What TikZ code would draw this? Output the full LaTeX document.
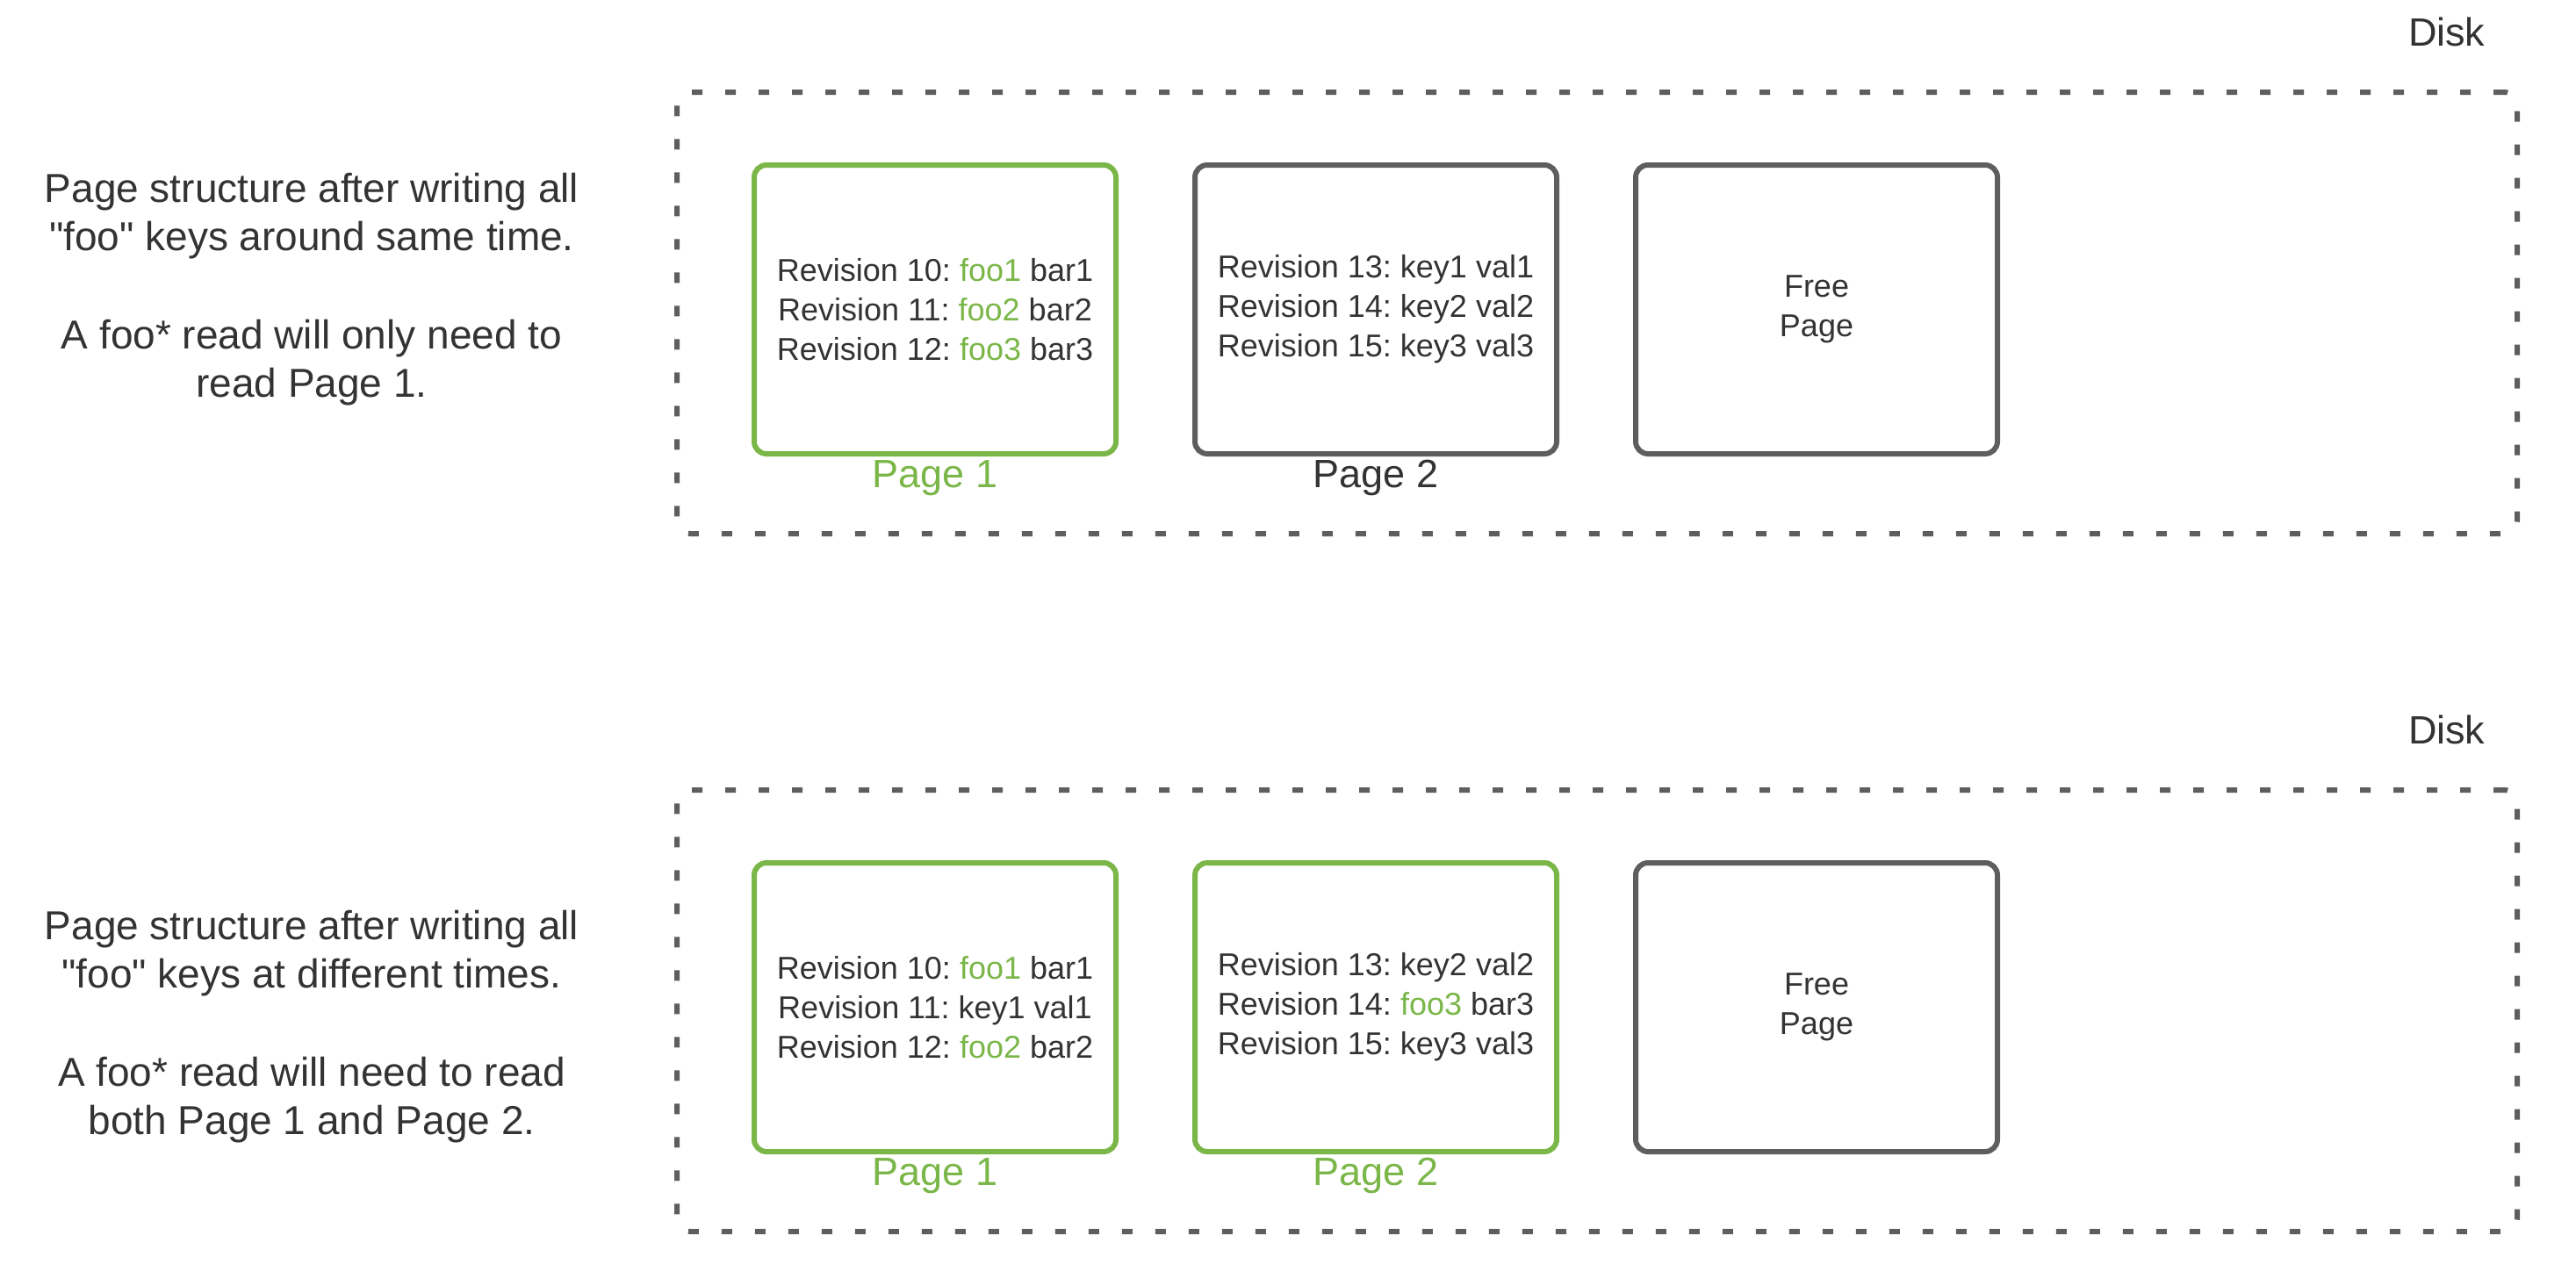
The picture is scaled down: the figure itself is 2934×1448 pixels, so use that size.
\documentclass[tikz,border=0pt]{standalone}
\usepackage{fontspec}
\defaultfontfeatures[\rmfamily]{}
\setmainfont{Liberation Sans}[Ligatures=TeXOff]
\usepackage{tikz}

\definecolor{pagegreen}{HTML}{7AB648}
\definecolor{diskgrey}{HTML}{5E5E5E}
\definecolor{inktext}{HTML}{333333}

\newcommand{\revfont}{\fontsize{36}{45}\selectfont}
\newcommand{\notefont}{\fontsize{46}{55}\selectfont}
\newcommand{\labelfont}{\fontsize{45}{54}\selectfont}
\newcommand{\fookey}[1]{\textcolor{pagegreen}{#1}}
\frenchspacing

\tikzset{
  disk/.style={draw=diskgrey, line width=6pt, dash pattern=on 12pt off 26pt,
    rounded corners=15pt, minimum width=2096pt, minimum height=503pt},
  pagebox/.style={line width=6pt, rounded corners=14pt, minimum width=412pt,
    minimum height=329pt, align=center, text=inktext, font=\revfont},
  greenpage/.style={pagebox, draw=pagegreen},
  greypage/.style={pagebox, draw=diskgrey},
  pagename/.style={anchor=base, font=\labelfont},
  disklabel/.style={anchor=base east, font=\labelfont, text=inktext},
  note/.style={align=center, inner sep=0pt, font=\notefont, text=inktext}
}

\begin{document}
\begin{tikzpicture}[x=1pt, y=-1pt]
    \useasboundingbox (0,0) rectangle (2934,1448);

    % same time
    \node[disk] (disk1) at (1819,356.5) {};
    \node[disklabel] (disk1lab) at ([xshift=-36pt, yshift=50pt]disk1.north east) {Disk};
    \node[note] (note1) at (355,330) {Page structure after writing all\\
        "foo" keys around same time.\\[57pt]
        A foo* read will only need to\\ read Page 1.};

    \node[greenpage] (page11) at (1065,352.5) {Revision 10: \fookey{foo1} bar1\\
        Revision 11: \fookey{foo2} bar2\\ Revision 12: \fookey{foo3} bar3};
    \node[greypage] (page12) at (1567,352.5) {Revision 13: key1 val1\\
        Revision 14: key2 val2\\ Revision 15: key3 val3};
    \node[greypage] (free1) at (2069,352.5) {Free\\ Page};

    \node[pagename, text=pagegreen] (page11lab) at ([yshift=-35pt]page11.south) {Page 1};
    \node[pagename, text=inktext] (page12lab) at ([yshift=-35pt]page12.south) {Page 2};

    % different times
    \node[disk] (disk2) at (1819,1151.5) {};
    \node[disklabel] (disk2lab) at ([xshift=-36pt, yshift=50pt]disk2.north east) {Disk};
    \node[note] (note2) at (355,1170) {Page structure after writing all\\
        "foo" keys at different times.\\[57pt]
        A foo* read will need to read\\ both Page 1 and Page 2.};

    \node[greenpage] (page21) at (1065,1147.5) {Revision 10: \fookey{foo1} bar1\\
        Revision 11: key1 val1\\ Revision 12: \fookey{foo2} bar2};
    \node[greenpage] (page22) at (1567,1147.5) {Revision 13: key2 val2\\
        Revision 14: \fookey{foo3} bar3\\ Revision 15: key3 val3};
    \node[greypage] (free2) at (2069,1147.5) {Free\\ Page};

    \node[pagename, text=pagegreen] (page21lab) at ([yshift=-35pt]page21.south) {Page 1};
    \node[pagename, text=pagegreen] (page22lab) at ([yshift=-35pt]page22.south) {Page 2};

\end{tikzpicture}
\end{document}
